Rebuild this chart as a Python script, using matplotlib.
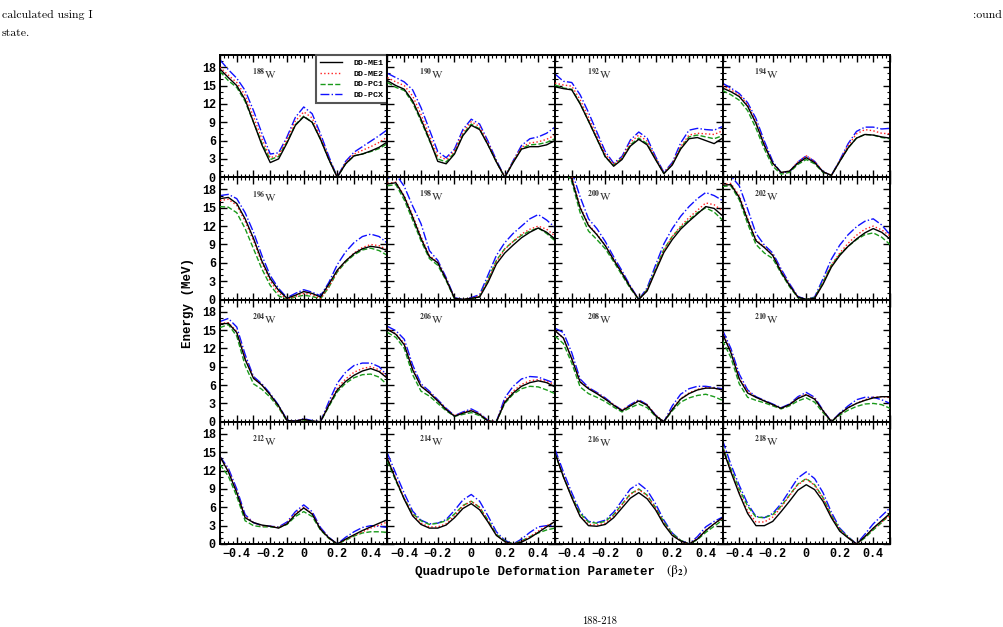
import matplotlib.pyplot as plt
from matplotlib.ticker import MultipleLocator, FuncFormatter

# deformation grid (beta_2) and nuclei
beta = [-0.50, -0.45, -0.40, -0.35, -0.30, -0.25, -0.20, -0.15, -0.10, -0.05, 0.00,
        0.05, 0.10, 0.15, 0.20, 0.25, 0.30, 0.35, 0.40, 0.45, 0.50]
nuclei = [188, 190, 192, 194, 196, 198, 200, 202, 204, 206, 208, 210, 212, 214, 216, 218]
models = ['DD-ME1', 'DD-ME2', 'DD-PC1', 'DD-PCX']

dd_me1 = {
    188: [17.7, 16.3, 15.0, 12.7, 9.0, 5.3, 2.4, 3.0, 5.6, 8.5, 9.9, 9.0, 6.2, 2.9, 0.0, 2.2, 3.5, 3.8, 4.3, 4.9, 5.8],
    190: [15.8, 15.0, 14.4, 12.5, 9.5, 6.2, 2.6, 2.2, 3.8, 6.8, 8.5, 7.8, 5.3, 2.5, 0.0, 2.4, 4.6, 5.0, 5.0, 5.3, 6.0],
    192: [14.8, 14.5, 14.3, 12.0, 9.2, 6.3, 3.4, 1.8, 2.9, 5.1, 6.2, 5.3, 2.9, 0.6, 2.0, 4.6, 6.3, 6.5, 6.0, 5.5, 6.4],
    194: [14.6, 14.0, 13.2, 11.6, 8.8, 5.2, 2.3, 0.8, 1.0, 2.3, 3.2, 2.4, 0.9, 0.3, 2.6, 4.8, 6.4, 7.0, 6.9, 6.6, 6.4],
    196: [16.5, 16.7, 15.7, 13.2, 10.0, 6.3, 3.4, 1.5, 0.2, 0.7, 1.3, 1.0, 0.4, 2.5, 4.8, 6.3, 7.5, 8.3, 8.7, 8.5, 8.0],
    198: [18.9, 19.1, 16.8, 13.5, 10.0, 7.0, 6.0, 3.3, 0.2, 0.0, 0.2, 0.4, 2.8, 5.8, 7.6, 8.9, 10.1, 11.0, 11.7, 11.0, 9.9],
    200: [23.0, 21.5, 19.7, 15.0, 12.1, 10.6, 8.8, 6.5, 4.3, 2.0, 0.0, 1.4, 4.6, 7.7, 9.8, 11.5, 12.8, 14.0, 15.2, 14.9, 13.7],
    202: [18.7, 18.8, 16.7, 13.0, 9.6, 8.5, 7.2, 4.5, 2.3, 0.4, 0.0, 0.2, 2.5, 5.3, 7.2, 8.7, 9.9, 10.9, 11.6, 11.0, 9.9],
    204: [16.0, 16.1, 14.6, 10.2, 7.1, 6.0, 4.4, 2.6, 0.2, 0.1, 0.4, 0.1, 0.0, 2.7, 5.2, 6.6, 7.6, 8.3, 8.7, 8.2, 7.1],
    206: [15.1, 14.3, 12.6, 8.5, 5.8, 4.7, 3.4, 2.0, 0.9, 1.4, 1.8, 1.2, 0.1, 0.0, 3.2, 4.7, 5.8, 6.4, 6.7, 6.4, 5.7],
    208: [14.9, 13.7, 10.3, 6.5, 5.4, 4.6, 3.7, 2.7, 1.8, 2.6, 3.4, 2.7, 1.0, 0.0, 2.0, 3.7, 4.6, 5.2, 5.5, 5.5, 5.2],
    210: [14.4, 11.3, 7.0, 4.7, 4.0, 3.4, 2.8, 2.2, 2.8, 3.8, 4.4, 3.7, 1.8, 0.0, 1.3, 2.3, 3.0, 3.5, 3.9, 4.1, 4.1],
    212: [14.3, 11.8, 8.4, 4.3, 3.5, 3.1, 2.9, 2.6, 3.3, 4.8, 5.9, 4.9, 2.4, 1.0, 0.0, 0.8, 1.5, 2.2, 2.8, 3.4, 4.0],
    214: [13.9, 10.5, 7.3, 4.6, 3.2, 2.6, 2.6, 3.1, 4.3, 5.8, 6.6, 5.6, 3.6, 1.4, 0.4, 0.0, 0.3, 1.0, 1.9, 2.8, 3.7],
    216: [14.9, 11.0, 7.6, 4.5, 3.0, 2.9, 3.2, 4.3, 5.9, 7.5, 8.4, 7.4, 5.6, 3.2, 1.4, 0.5, 0.0, 0.8, 2.2, 3.3, 4.3],
    218: [15.7, 11.8, 8.2, 5.0, 3.0, 3.0, 3.7, 5.3, 7.0, 8.8, 9.7, 8.9, 7.0, 4.3, 2.1, 1.0, 0.0, 1.2, 2.6, 3.8, 5.0],
}
dd_me2 = {
    188: [18.0, 16.7, 15.5, 13.4, 9.9, 6.3, 3.2, 3.6, 6.2, 9.2, 10.7, 9.7, 6.6, 3.1, 0.0, 2.4, 3.8, 4.4, 5.0, 5.7, 6.6],
    190: [16.3, 15.6, 15.0, 13.3, 10.3, 6.8, 3.5, 2.9, 4.3, 7.4, 9.1, 8.3, 5.6, 2.6, 0.0, 2.6, 4.9, 5.6, 5.8, 6.2, 6.9],
    192: [15.4, 15.1, 14.9, 12.7, 9.8, 6.8, 3.8, 2.1, 3.2, 5.7, 6.9, 5.9, 3.2, 0.7, 2.2, 5.0, 6.9, 7.2, 7.1, 7.0, 7.6],
    194: [15.0, 14.3, 13.5, 11.9, 9.1, 5.4, 2.3, 0.7, 1.0, 2.5, 3.5, 2.6, 0.9, 0.3, 2.7, 5.2, 7.1, 7.8, 7.6, 7.2, 7.1],
    196: [16.2, 16.4, 15.4, 12.8, 9.6, 6.0, 3.0, 1.1, 0.0, 0.5, 1.0, 0.8, 0.1, 2.1, 4.6, 6.3, 7.6, 8.5, 9.0, 8.8, 8.1],
    198: [19.0, 19.2, 17.0, 13.8, 10.3, 7.2, 6.1, 3.4, 0.2, 0.0, 0.2, 0.6, 3.1, 6.2, 8.2, 9.5, 10.7, 11.5, 12.0, 11.5, 10.4],
    200: [24.0, 22.0, 20.0, 15.2, 12.3, 10.7, 8.9, 6.6, 4.4, 2.1, 0.0, 1.5, 4.8, 8.0, 10.3, 12.0, 13.4, 14.6, 15.8, 15.5, 14.5],
    202: [18.8, 19.0, 17.0, 13.3, 9.8, 8.6, 7.3, 4.7, 2.4, 0.4, 0.0, 0.2, 2.7, 5.6, 7.6, 9.2, 10.5, 11.5, 12.0, 11.4, 10.4],
    204: [16.1, 16.2, 14.8, 10.4, 7.2, 6.0, 4.4, 2.5, 0.2, 0.1, 0.4, 0.1, 0.0, 2.8, 5.5, 7.0, 8.1, 8.7, 9.0, 8.5, 7.2],
    206: [15.2, 14.4, 12.8, 8.7, 5.9, 4.8, 3.5, 2.1, 1.0, 1.5, 1.9, 1.3, 0.2, 0.0, 3.4, 5.0, 6.1, 6.7, 6.9, 6.6, 6.1],
    208: [14.9, 13.7, 10.4, 6.6, 5.5, 4.7, 3.8, 2.8, 1.9, 2.7, 3.5, 2.8, 1.1, 0.0, 2.1, 3.8, 4.7, 5.3, 5.6, 5.5, 5.2],
    210: [14.5, 11.5, 7.2, 5.0, 4.0, 3.4, 2.8, 2.2, 2.8, 3.9, 4.5, 3.8, 1.8, 0.0, 1.3, 2.3, 3.0, 3.6, 4.0, 4.1, 4.0],
    212: [14.2, 12.0, 8.6, 4.5, 3.5, 3.0, 2.9, 2.7, 3.4, 5.0, 6.0, 5.0, 2.5, 1.0, 0.0, 0.7, 1.4, 2.0, 2.6, 3.1, 3.6],
    214: [14.0, 10.7, 7.5, 4.8, 3.4, 2.8, 2.8, 3.3, 4.6, 6.2, 7.0, 6.0, 3.8, 1.5, 0.4, 0.0, 0.4, 1.2, 2.1, 3.0, 3.6],
    216: [14.9, 11.1, 7.7, 4.6, 3.2, 3.1, 3.4, 4.6, 6.4, 8.1, 8.9, 7.9, 5.9, 3.4, 1.5, 0.5, 0.0, 0.9, 2.3, 3.3, 4.2],
    218: [15.8, 12.0, 8.5, 5.4, 3.6, 3.6, 4.4, 6.0, 7.9, 9.7, 10.6, 9.6, 7.5, 4.6, 2.3, 1.1, 0.0, 1.2, 2.5, 3.6, 4.7],
}
dd_pc1 = {
    188: [17.3, 15.8, 14.7, 12.4, 9.0, 5.6, 2.9, 3.4, 5.8, 8.6, 10.0, 9.0, 6.2, 2.9, 0.0, 2.2, 3.5, 3.8, 4.2, 4.7, 5.5],
    190: [15.5, 14.7, 14.2, 12.2, 9.2, 6.0, 3.0, 2.5, 4.0, 7.0, 8.7, 7.9, 5.3, 2.5, 0.0, 2.5, 4.7, 5.3, 5.4, 5.7, 6.3],
    192: [15.1, 14.6, 14.4, 12.1, 9.2, 6.3, 3.3, 2.0, 3.1, 5.3, 6.4, 5.5, 3.0, 0.6, 2.1, 4.8, 6.6, 6.9, 6.6, 6.3, 6.8],
    194: [14.2, 13.5, 12.6, 10.9, 8.0, 4.6, 1.8, 0.5, 0.8, 2.1, 2.9, 2.2, 0.8, 0.3, 2.6, 4.8, 6.4, 7.0, 6.9, 6.5, 6.3],
    196: [15.2, 15.1, 14.2, 11.6, 8.3, 5.0, 2.3, 0.6, 0.0, 0.4, 0.7, 0.5, 0.1, 2.0, 4.5, 6.1, 7.3, 8.1, 8.4, 8.0, 7.2],
    198: [18.6, 18.8, 16.3, 13.0, 9.6, 6.7, 5.6, 3.1, 0.1, 0.0, 0.1, 0.5, 3.3, 6.4, 8.3, 9.5, 10.5, 11.2, 11.7, 10.8, 9.6],
    200: [23.5, 21.5, 19.3, 14.2, 11.2, 9.8, 8.3, 6.2, 4.0, 1.8, 0.0, 1.6, 5.0, 8.2, 10.3, 11.8, 13.0, 14.2, 15.0, 14.3, 13.0],
    202: [18.5, 18.6, 16.3, 12.4, 9.0, 7.6, 6.7, 4.3, 2.1, 0.3, 0.0, 0.3, 2.9, 5.6, 7.4, 8.7, 9.8, 10.6, 10.9, 10.2, 9.0],
    204: [15.4, 15.9, 14.0, 9.2, 6.2, 5.3, 4.0, 2.3, 0.1, 0.1, 0.3, 0.1, 0.0, 2.5, 4.9, 6.3, 7.2, 7.7, 7.8, 7.3, 6.0],
    206: [14.6, 13.8, 12.0, 7.7, 5.0, 4.2, 3.0, 1.8, 0.9, 1.2, 1.5, 1.0, 0.1, 0.0, 3.0, 4.5, 5.4, 5.8, 5.7, 5.2, 4.6],
    208: [14.0, 12.8, 9.6, 5.7, 4.6, 4.0, 3.3, 2.4, 1.6, 2.3, 2.9, 2.3, 0.9, 0.0, 1.8, 3.2, 3.9, 4.3, 4.5, 4.1, 3.5],
    210: [13.3, 10.5, 6.2, 4.0, 3.5, 3.1, 2.6, 2.1, 2.6, 3.4, 3.9, 3.2, 1.5, 0.0, 1.1, 1.9, 2.5, 2.9, 3.0, 2.8, 2.2],
    212: [13.0, 11.1, 7.8, 3.8, 3.0, 2.8, 2.8, 2.7, 3.2, 4.5, 5.3, 4.5, 2.3, 0.9, 0.0, 0.6, 1.3, 1.8, 2.0, 2.0, 1.9],
    214: [13.5, 10.3, 7.4, 5.0, 3.8, 3.2, 3.4, 3.8, 4.9, 6.3, 7.0, 6.0, 3.9, 1.6, 0.5, 0.0, 0.5, 1.2, 1.8, 2.3, 2.6],
    216: [14.8, 11.0, 7.8, 5.0, 3.6, 3.4, 3.7, 4.8, 6.5, 8.2, 9.0, 8.0, 6.0, 3.6, 1.7, 0.6, 0.0, 0.7, 1.9, 2.9, 3.9],
    218: [16.0, 12.3, 9.0, 6.2, 4.4, 4.3, 4.8, 6.2, 8.0, 9.8, 10.7, 9.7, 7.6, 4.7, 2.4, 1.1, 0.0, 1.0, 2.3, 3.5, 4.9],
}
dd_pcx = {
    188: [19.2, 17.6, 16.2, 14.2, 10.9, 7.2, 3.8, 4.0, 6.6, 9.8, 11.5, 10.4, 7.1, 3.4, 0.0, 2.6, 4.1, 5.0, 5.9, 6.8, 7.8],
    190: [17.0, 16.3, 15.6, 14.3, 11.4, 7.8, 4.2, 3.2, 4.6, 7.8, 9.5, 8.7, 5.9, 2.8, 0.0, 2.7, 5.2, 6.3, 6.6, 7.2, 8.2],
    192: [16.9, 15.7, 15.5, 13.5, 10.6, 7.4, 4.2, 2.3, 3.4, 6.1, 7.4, 6.4, 3.4, 0.8, 2.4, 5.6, 7.7, 8.0, 7.8, 7.7, 8.3],
    194: [15.4, 14.6, 13.7, 12.2, 9.6, 5.9, 2.6, 0.7, 0.9, 2.5, 3.5, 2.6, 0.9, 0.3, 2.8, 5.5, 7.5, 8.2, 8.2, 7.9, 8.0],
    196: [17.0, 17.2, 16.5, 14.2, 11.0, 7.2, 3.9, 1.8, 0.3, 1.0, 1.6, 1.2, 0.6, 2.8, 5.7, 7.8, 9.3, 10.3, 10.7, 10.3, 9.2],
    198: [19.8, 20.5, 18.5, 15.3, 12.4, 8.0, 6.4, 3.6, 0.3, 0.0, 0.3, 0.8, 4.0, 7.2, 9.3, 10.8, 12.0, 13.2, 13.9, 13.0, 11.8],
    200: [25.0, 23.0, 21.0, 16.8, 13.2, 11.6, 9.5, 7.0, 4.7, 2.2, 0.0, 1.9, 5.6, 9.1, 11.6, 13.6, 15.2, 16.5, 17.5, 17.0, 16.2],
    202: [20.5, 20.2, 18.6, 14.8, 10.8, 8.9, 7.6, 5.0, 2.6, 0.5, 0.0, 0.4, 3.4, 6.6, 8.9, 10.6, 11.9, 12.8, 13.2, 12.2, 10.6],
    204: [16.4, 16.9, 15.5, 11.0, 7.4, 6.2, 4.6, 2.7, 0.3, 0.1, 0.5, 0.2, 0.0, 3.3, 6.3, 8.1, 9.2, 9.6, 9.6, 9.0, 7.5],
    206: [15.6, 14.9, 13.5, 9.3, 6.2, 5.0, 3.6, 2.2, 1.0, 1.6, 2.1, 1.4, 0.2, 0.0, 3.9, 5.8, 7.0, 7.4, 7.3, 6.8, 6.3],
    208: [15.3, 14.6, 11.3, 7.0, 5.6, 4.8, 3.9, 2.8, 1.9, 2.8, 3.6, 2.8, 1.1, 0.0, 2.6, 4.5, 5.4, 5.8, 5.8, 5.6, 5.4],
    210: [15.0, 12.0, 7.8, 5.2, 4.1, 3.5, 2.9, 2.3, 2.9, 4.1, 4.8, 4.0, 1.9, 0.0, 1.4, 2.6, 3.6, 4.0, 4.0, 3.6, 3.0],
    212: [14.3, 12.4, 9.0, 4.8, 3.5, 3.0, 2.9, 2.8, 3.6, 5.3, 6.4, 5.3, 2.7, 1.1, 0.0, 1.1, 2.0, 2.7, 3.0, 2.9, 2.7],
    214: [14.8, 11.5, 8.3, 5.4, 3.9, 3.3, 3.4, 4.0, 5.5, 7.2, 8.1, 7.0, 4.6, 2.0, 0.6, 0.0, 0.8, 1.9, 2.8, 3.0, 3.0],
    216: [15.5, 11.8, 8.4, 5.3, 3.7, 3.5, 3.9, 5.2, 7.1, 9.0, 9.9, 8.8, 6.6, 3.9, 1.8, 0.6, 0.0, 1.2, 2.8, 3.7, 4.4],
    218: [17.0, 13.0, 9.6, 6.6, 4.5, 4.3, 5.0, 6.6, 8.7, 10.8, 11.8, 10.7, 8.4, 5.2, 2.6, 1.2, 0.0, 1.6, 3.3, 4.6, 5.9],
}

series = [dd_me1, dd_me2, dd_pc1, dd_pcx]
colors = ['black', '#ff2020', '#1a9a1a', '#1010ff']
styles = ['-', ':', '--', '-.']
zorders = [5, 4, 3, 2]

plt.rc('font', family='Liberation Mono', weight='bold')
plt.rc('mathtext', fontset='stix')
plt.rc('axes', linewidth=1.4)

W, H = 1004, 627
fig, axes = plt.subplots(4, 4, sharex=True, sharey=True, figsize=(W / 100, H / 100), dpi=100)
fig.subplots_adjust(left=220 / W, right=890 / W, top=1 - 55 / H, bottom=1 - 544 / H,
                    hspace=0.0, wspace=0.0)


def beta_fmt(v, pos):
    k = int(round(v * 10))
    if k % 2:
        return ''
    if k == 0:
        return '0'
    return ('%.1f' % v).replace('-', '\u2212')


for ax, A in zip(axes.flat, nuclei):
    for name, data, c, ls, z in zip(models, series, colors, styles, zorders):
        ax.plot(beta, data[A], color=c, ls=ls, lw=1.0, zorder=z, label=name)
    ax.text(-0.31, 16.8, r'$^{%d}$W' % A, fontfamily='STIXGeneral', fontweight='normal',
            fontsize=8, color='#333333', ha='left', va='center')
    ax.set_xlim(-0.5, 0.5)
    ax.set_ylim(0, 20)
    ax.xaxis.set_major_locator(MultipleLocator(0.1))
    ax.xaxis.set_minor_locator(MultipleLocator(0.025))
    ax.yaxis.set_major_locator(MultipleLocator(3))
    ax.yaxis.set_minor_locator(MultipleLocator(1))
    ax.xaxis.set_major_formatter(FuncFormatter(beta_fmt))
    ax.tick_params(which='both', direction='in', top=True, right=True, labelsize=8.5, pad=3)
    ax.tick_params(which='major', length=5, width=1.0)
    ax.tick_params(which='minor', length=2.5, width=0.8)

leg = axes[0, 0].legend(loc='upper right', prop={'family': 'Liberation Mono', 'weight': 'bold', 'size': 6},
                        frameon=True, fancybox=False, edgecolor='#555555', framealpha=1,
                        borderpad=0.5, labelspacing=0.35, handlelength=2.6, handletextpad=1.4,
                        borderaxespad=0.0)
leg.get_frame().set_linewidth(1.5)
leg.set_zorder(10)

# axis titles
fig.text(188 / W, 1 - 303 / H, 'Energy (MeV)', rotation=90, ha='center', va='center', size=9)
fig.text(415 / W, 1 - 572 / H, 'Quadrupole Deformation Parameter', ha='left', va='center', size=9)
fig.text(666 / W, 1 - 571 / H, '(\u03b2$_2$)', ha='left', va='center', size=9.5,
         fontfamily='STIXGeneral', fontweight='normal')

# surrounding page text
page = ['cmr10', 'DejaVu Serif']
fig.text(2 / W, 1 - 15 / H, 'calculated using I', family=page, weight='normal', size=8.5, va='center')
fig.text(2 / W, 1 - 33 / H, 'state.', family=page, weight='normal', size=8.5, va='center')
fig.text(1002 / W, 1 - 15 / H, ':ound', family=page, weight='normal', size=8.5, va='center', ha='right')
fig.text(582 / W, 1 - 626 / H, '188-218', family=page, weight='normal', size=7.5, va='bottom')

fig.savefig('out.png', dpi=100)
